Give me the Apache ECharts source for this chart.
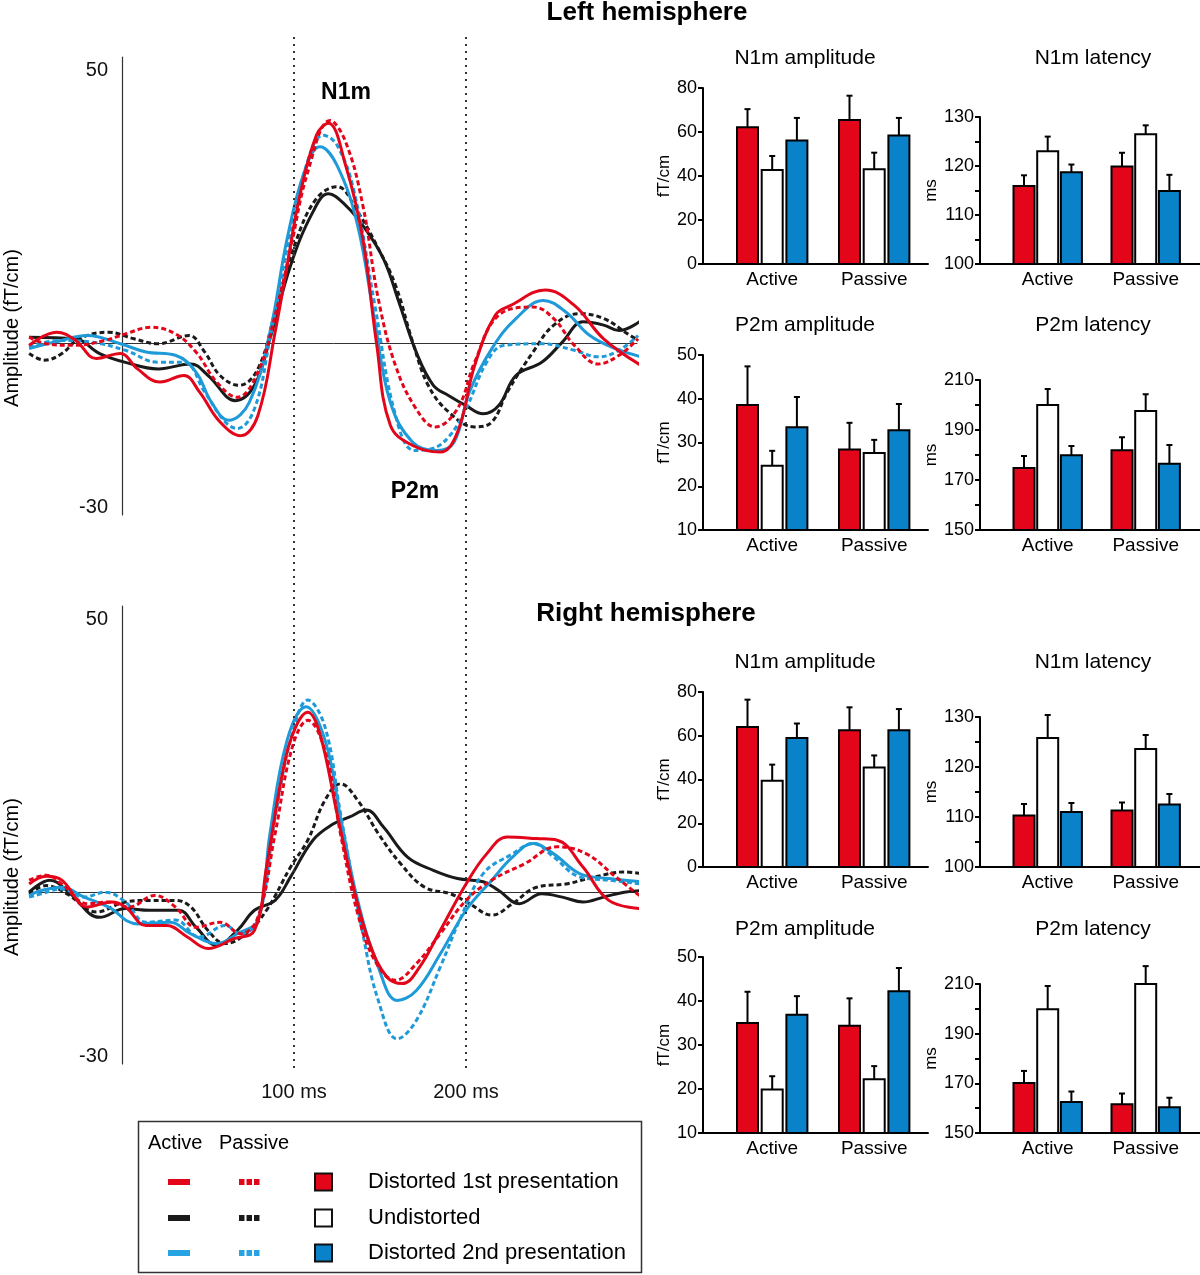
<!DOCTYPE html>
<html><head><meta charset="utf-8">
<script src="https://cdn.jsdelivr.net/npm/echarts@6/dist/echarts.min.js"></script>
<style>html,body{margin:0;padding:0;background:#fff}#c{width:1200px;height:1275px}</style>
</head><body><div id="c"></div>
<script>
// ================= DATA =================
const conditions = ['Distorted 1st presentation', 'Undistorted', 'Distorted 2nd presentation'];
const groups = ['Active', 'Passive'];
const waveYTicks = [50, -30];
const waveXTicks = [100, 200];

// Waveforms: [time ms, amplitude fT/cm]
// Left hemisphere
const L_act_dist1 = [[-54,-0.3],[-38,2.1],[-27,0.6],[-15,-2.7],[-1,-1.8],[9,-4.6],[22,-7],[36,-5.8],[45,-8.8],[57,-14.3],[69,-16.8],[79,-13.1],[89,2.1],[96,14.3],[103,26.5],[113,38.1],[120,40.3],[130,32.6],[140,19.2],[148,0],[156,-14.9],[169,-18.6],[185,-19.8],[195,-16.2],[205,-4],[217,5.2],[226,7],[246,9.8],[263,7],[280,0.9],[302,-4]];
const L_pas_dist1 = [[-54,1.2],[-44,0],[-28,-0.3],[-10,0.6],[2,1.8],[17,3],[31,1.8],[43,-1.5],[55,-7],[67,-9.8],[79,-5.2],[89,5.2],[98,17.4],[108,31.4],[121,40.8],[130,36.9],[140,25.3],[149,8.2],[159,-4],[171,-11.9],[182,-15.2],[195,-11.9],[205,-3.4],[219,5.2],[239,6.7],[251,4.6],[263,-0.3],[277,-3.7],[289,-2.1],[300,0.9]];
const L_act_undist = [[-54,1.2],[-27,0.9],[-13,-1.8],[2,-3.4],[21,-4.6],[40,-3.7],[50,-5.8],[66,-10.4],[77,-7.6],[86,0.9],[98,14.3],[111,24.1],[120,27.4],[130,25.3],[140,21.6],[152,15.5],[161,7.6],[171,-1.5],[181,-7.6],[190,-9.5],[200,-11.3],[210,-12.8],[219,-11.3],[229,-5.8],[244,-3.4],[256,0.3],[268,4],[280,3.4],[289,2.4],[302,4.3]];
const L_pas_undist = [[-54,-1.8],[-45,-3],[-35,-1.8],[-25,0.9],[-8,2.1],[7,0.9],[21,0],[39,1.5],[48,-1.5],[57,-5.8],[68,-7.6],[79,-4.6],[89,5.8],[101,18.6],[113,26.5],[125,28.7],[137,24.1],[149,17.4],[159,10.7],[169,0.3],[178,-7.6],[190,-12.5],[205,-15.2],[215,-14.3],[224,-8.8],[239,-1.5],[251,3.4],[266,5.5],[280,4.6],[294,1.8],[300,0.6]];
const L_act_dist2 = [[-54,-0.9],[-39,0.3],[-20,1.5],[-1,0],[14,-1.5],[31,-2.1],[43,-5.2],[52,-10.7],[62,-14],[74,-10.7],[86,2.1],[96,19.2],[106,31.4],[115,36],[125,32.6],[137,21.6],[147,4],[156,-10.7],[169,-18],[183,-19.5],[193,-18],[202,-8.8],[215,-0.9],[229,4.6],[245,7.9],[258,5.8],[272,1.5],[287,-0.9],[302,-2.4]];
const L_pas_dist2 = [[-54,-0.6],[-37,0.6],[-18,0.3],[2,-1.2],[21,-3.4],[36,-3.4],[48,-8.8],[60,-14.3],[67,-15.5],[77,-11.9],[86,0.9],[96,17.4],[106,31.4],[117,38.1],[125,36.3],[135,27.7],[147,7],[159,-13.1],[170,-19.5],[180,-19.2],[190,-17],[200,-11.9],[212,-3.4],[222,-0.3],[244,0],[263,-1.2],[277,-2.4],[289,-1.2],[300,1.5]];
// Right hemisphere
const R_act_dist1 = [[-54,1.6],[-44,3],[-35,2.3],[-20,-2.6],[-6,-1.7],[2,-2.6],[14,-6],[26,-6],[38,-8.1],[50,-10.2],[65,-8.4],[77,-6.9],[84,4.7],[94,23],[101,30.3],[108,33],[115,29.1],[125,14.5],[135,0.4],[144,-9.3],[154,-15.4],[163,-16.6],[173,-13.6],[185,-6.9],[200,1.6],[212,7.1],[224,10.2],[241,9.9],[253,9.6],[268,4.7],[283,-1.4],[302,-2.9]];
const R_pas_dist1 = [[-54,2.3],[-44,3.2],[-35,1.6],[-20,-2],[-8,-1.7],[4,-2.6],[19,-0.5],[31,-2.6],[43,-6.3],[57,-5.4],[69,-7.5],[79,-4.5],[89,10.8],[99,26.6],[108,31.5],[118,26],[127,10.8],[137,-3.8],[147,-12.4],[159,-16],[171,-13],[185,-7.5],[200,-1.4],[215,2.3],[234,5.3],[253,8.4],[270,7.1],[287,2.9],[302,-0.8]];
const R_act_undist = [[-54,0.1],[-42,2.3],[-30,-0.2],[-13,-4.5],[2,-2.9],[16,-3.2],[33,-3.2],[43,-6.3],[55,-9.6],[67,-6.9],[77,-3.2],[89,-1.4],[98,2.9],[111,9.6],[123,12.6],[132,13.8],[142,15.1],[152,12],[166,6.5],[181,4.1],[195,2.6],[210,2],[219,0.4],[231,-2],[244,-0.2],[256,-0.8],[268,-1.7],[280,-0.8],[292,0.1],[302,0.4]];
const R_pas_undist = [[-54,-0.2],[-44,1.3],[-32,-0.2],[-15,-3.5],[2,-1.7],[16,-1.4],[31,-1.4],[40,-2.6],[50,-6.9],[60,-9.3],[72,-7.5],[84,-3.2],[98,4.7],[108,9.6],[118,16.9],[127,19.9],[137,16.9],[149,10.8],[162,5.3],[176,1],[191,-0.2],[202,-2],[215,-4.1],[227,-2],[241,1],[258,1.6],[275,2.9],[292,3.8],[302,3.5]];
const R_act_dist2 = [[-54,-0.5],[-47,0.4],[-35,1],[-22,-0.8],[-8,-2.6],[9,-5.7],[28,-5.4],[40,-7.5],[55,-9.3],[67,-7.5],[79,-5],[86,10.8],[96,27.9],[107,34],[118,27.9],[127,13.8],[137,-1.4],[149,-13.6],[160,-19.7],[171,-17.9],[185,-11.2],[200,-3.2],[215,2.3],[227,6.5],[239,9],[251,7.1],[266,3.5],[283,2.6],[302,2]];
const R_pas_dist2 = [[-54,-0.8],[-47,-0.2],[-35,0.7],[-22,-0.8],[-10,0.1],[2,-1.7],[14,-5.4],[31,-5],[45,-8.1],[60,-6],[69,-7.5],[79,-5],[89,13.8],[99,29.1],[108,35.2],[118,30.3],[127,14.5],[140,-7.5],[149,-19.7],[160,-26.7],[171,-23.4],[185,-13.6],[197,-4.5],[210,3.5],[227,7.1],[239,9],[251,6.5],[266,2.9],[283,2.3],[302,1.6]];

// Bar panels: order = Active(dist1, undist, dist2), Passive(dist1, undist, dist2)
const L_N1mAmp_mean = [62.2, 42.7, 56.1, 65.5, 43.1, 58.4];
const L_N1mAmp_err  = [8.2, 6.4, 10.3, 11.0, 7.5, 8.0];
const L_N1mLat_mean = [115.9, 123.0, 118.7, 119.9, 126.5, 114.9];
const L_N1mLat_err  = [2.2, 3.0, 1.6, 2.8, 1.8, 3.3];
const L_P2mAmp_mean = [38.6, 24.7, 33.5, 28.4, 27.6, 32.8];
const L_P2mAmp_err  = [8.8, 3.4, 6.9, 6.1, 3.0, 6.0];
const L_P2mLat_mean = [174.8, 200.0, 179.9, 181.9, 197.6, 176.5];
const L_P2mLat_err  = [4.8, 6.4, 3.7, 5.2, 6.7, 7.5];
const R_N1mAmp_mean = [64.0, 39.4, 59.0, 62.5, 45.5, 62.5];
const R_N1mAmp_err  = [12.5, 7.4, 6.6, 10.5, 5.5, 9.7];
const R_N1mLat_mean = [110.3, 125.8, 111.0, 111.3, 123.6, 112.5];
const R_N1mLat_err  = [2.3, 4.6, 1.8, 1.6, 2.8, 2.1];
const R_P2mAmp_mean = [35.0, 19.9, 36.9, 34.4, 22.2, 42.2];
const R_P2mAmp_err  = [7.1, 3.0, 4.2, 6.2, 3.0, 5.3];
const R_P2mLat_mean = [170.1, 199.8, 162.5, 161.6, 210.0, 160.4];
const R_P2mLat_err  = [4.9, 9.4, 4.2, 4.3, 7.2, 3.8];

// ================= STYLE / LAYOUT =================
const FF = '"Liberation Sans", Arial, Helvetica, sans-serif';
const RED = '#e3061b', BLACK = '#1a1a1a', BLUE_LINE = '#1e9ad8', BLUE_BAR = '#0a82ca';
const lineColors = [RED, BLACK, BLUE_LINE];
const barFills = [RED, '#ffffff', BLUE_BAR];

const chart = echarts.init(document.getElementById('c'));
const grids = [], xAxes = [], yAxes = [], series = [], graphics = [];

function txt(text, x, y, size, opts) {
  opts = opts || {};
  graphics.push({
    type: 'text', x: x, y: y, rotation: opts.rotation || 0, z: 100,
    style: { text: text, font: (opts.bold ? 'bold ' : '') + size + 'px ' + FF,
      fill: '#000', align: opts.align || 'center', verticalAlign: 'middle',
      textAlign: opts.align || 'center', textVerticalAlign: 'middle' }
  });
}

// ---- waveform panels ----
const WAVE_LEFT = 30, WAVE_WIDTH = 607;
const WX = { min: -53.5, max: 299.4 };
const WY = { min: -31.3, max: 52.4 };
// pixel offset of the t = 0 axis from the grid's left edge (derived from the scale)
const ZERO_OFF = (0 - WX.min) / (WX.max - WX.min) * WAVE_WIDTH;
function wavePanel(top, curves) {
  const gi = grids.length;
  grids.push({ left: WAVE_LEFT, width: WAVE_WIDTH, top: top, height: 458, outerBoundsMode: 'none', containLabel: false });
  xAxes.push({ gridIndex: gi, type: 'value', min: WX.min, max: WX.max,
    axisLine: { show: true, onZero: true, lineStyle: { color: '#333', width: 1 } },
    axisTick: { show: false }, axisLabel: { show: false }, splitLine: { show: false } });
  yAxes.push({ gridIndex: gi, type: 'value', min: WY.min, max: WY.max, offset: -ZERO_OFF,
    axisLine: { show: true, onZero: false, lineStyle: { color: '#333', width: 1.2 } },
    axisTick: { show: false }, splitLine: { show: false },
    axisLabel: { customValues: waveYTicks, fontSize: 20, color: '#111', fontFamily: FF, margin: 14 } });
  const order = [[1, 1], [1, 0], [2, 1], [2, 0], [0, 1], [0, 0]];
  order.forEach(function (o) {
    const cond = o[0], passive = o[1];
    series.push({
      type: 'line', xAxisIndex: gi, yAxisIndex: gi, data: curves[cond][passive],
      smooth: 0.4, symbol: 'none', silent: true,
      lineStyle: { color: lineColors[cond], width: 3, type: passive ? [5, 3] : 'solid' },
      z: 3 + (cond === 0 ? 2 : cond === 2 ? 1 : 0)
    });
  });
}
wavePanel(57, [[L_act_dist1, L_pas_dist1], [L_act_undist, L_pas_undist], [L_act_dist2, L_pas_dist2]]);
wavePanel(606, [[R_act_dist1, R_pas_dist1], [R_act_undist, R_pas_undist], [R_act_dist2, R_pas_dist2]]);

// ---- dotted reference lines spanning both panels ----
(function () {
  const gi = grids.length;
  grids.push({ left: WAVE_LEFT, width: WAVE_WIDTH, top: 35, height: 1033, outerBoundsMode: 'none', containLabel: false });
  xAxes.push({ gridIndex: gi, type: 'value', min: WX.min, max: WX.max,
    axisLine: { show: false }, axisTick: { show: false }, splitLine: { show: false },
    axisLabel: { customValues: waveXTicks, formatter: function (v) { return v + ' ms'; },
      fontSize: 20, color: '#111', fontFamily: FF, margin: 14 } });
  yAxes.push({ gridIndex: gi, type: 'value', min: 0, max: 1, show: false });
  series.push({ type: 'line', xAxisIndex: gi, yAxisIndex: gi, data: [], silent: true,
    markLine: { silent: true, symbol: ['none', 'none'], label: { show: false },
      lineStyle: { color: '#333', width: 2, type: [2, 5] },
      data: waveXTicks.map(function (v) { return { xAxis: v }; }) } });
})();

// ---- bar panels ----
const COLS = {
  amp: { left: 703, right: 928, first: 44.5, spacing: 24.7, gap: 102, nameGap: 30 },
  lat: { left: 980, right: 1200, first: 44, spacing: 23.7, gap: 98, nameGap: 37 }
};
const BW = 21;
function barPanel(col, top, bottom, yMin, yMax, yInt, labelStep, unit, means, errs) {
  const c = COLS[col];
  const gi = grids.length;
  const G = c.gap / c.spacing;
  grids.push({ left: c.left, width: c.right - c.left, top: top, height: bottom - top, outerBoundsMode: 'none', containLabel: false });
  xAxes.push({ gridIndex: gi, type: 'value', min: -c.first / c.spacing, max: (c.right - c.left - c.first) / c.spacing,
    axisLine: { show: true, onZero: false, lineStyle: { color: '#000', width: 2 } },
    axisTick: { show: false }, splitLine: { show: false },
    axisLabel: { customValues: [1, G + 1], fontSize: 19, color: '#000', fontFamily: FF, margin: 6,
      formatter: function (v) { return v < G / 2 + 1 ? groups[0] : groups[1]; } } });
  yAxes.push({ gridIndex: gi, type: 'value', min: yMin, max: yMax, interval: yInt,
    axisLine: { show: true, onZero: false, lineStyle: { color: '#000', width: 2 } },
    axisTick: { show: true, inside: false, length: 5, lineStyle: { color: '#000', width: 2 } },
    splitLine: { show: false },
    axisLabel: { fontSize: 18, color: '#000', fontFamily: FF, margin: 6,
      formatter: function (v) { return ((v - yMin) % labelStep === 0) ? String(v) : ''; } },
    name: unit, nameLocation: 'middle', nameGap: c.nameGap, nameRotate: 90,
    nameTextStyle: { fontSize: 17, color: '#000', fontFamily: FF } });
  const data = [];
  for (let g = 0; g < 2; g++) for (let s = 0; s < 3; s++)
    data.push([g * G + s, means[g * 3 + s], errs[g * 3 + s], s]);
  series.push({ type: 'custom', xAxisIndex: gi, yAxisIndex: gi, data: data, silent: true,
    renderItem: function (params, api) {
      const x = api.value(0), m = api.value(1), e = api.value(2), s = api.value(3);
      const base = api.coord([x, yMin]), tp = api.coord([x, m]), et = api.coord([x, m + e]);
      return { type: 'group', children: [
        { type: 'line', shape: { x1: tp[0], y1: tp[1], x2: et[0], y2: et[1] }, style: { stroke: '#000', lineWidth: 2 } },
        { type: 'line', shape: { x1: et[0] - 3, y1: et[1], x2: et[0] + 3, y2: et[1] }, style: { stroke: '#000', lineWidth: 2 } },
        { type: 'rect', shape: { x: tp[0] - BW / 2, y: tp[1], width: BW, height: base[1] - tp[1] },
          style: { fill: barFills[s], stroke: '#000', lineWidth: 2 } }
      ] };
    } });
}
barPanel('amp', 88, 264, 0, 80, 20, 20, 'fT/cm', L_N1mAmp_mean, L_N1mAmp_err);
barPanel('lat', 117, 264, 100, 130, 5, 10, 'ms', L_N1mLat_mean, L_N1mLat_err);
barPanel('amp', 355, 530, 10, 50, 10, 10, 'fT/cm', L_P2mAmp_mean, L_P2mAmp_err);
barPanel('lat', 380, 530, 150, 210, 10, 20, 'ms', L_P2mLat_mean, L_P2mLat_err);
barPanel('amp', 692, 867, 0, 80, 20, 20, 'fT/cm', R_N1mAmp_mean, R_N1mAmp_err);
barPanel('lat', 717, 867, 100, 130, 5, 10, 'ms', R_N1mLat_mean, R_N1mLat_err);
barPanel('amp', 957, 1133, 10, 50, 10, 10, 'fT/cm', R_P2mAmp_mean, R_P2mAmp_err);
barPanel('lat', 984, 1133, 150, 210, 10, 20, 'ms', R_P2mLat_mean, R_P2mLat_err);

// ---- texts ----
txt('Left hemisphere', 647, 13, 26, { bold: true });
txt('Right hemisphere', 646, 614, 26, { bold: true });
txt('N1m', 346, 93, 23, { bold: true });
txt('P2m', 415, 492, 23, { bold: true });
txt('Amplitude (fT/cm)', 12, 328, 20, { rotation: Math.PI / 2 });
txt('Amplitude (fT/cm)', 12, 877, 20, { rotation: Math.PI / 2 });
[[58, 'N1m'], [325, 'P2m'], [662, 'N1m'], [929, 'P2m']].forEach(function (r) {
  txt(r[1] + ' amplitude', 805, r[0], 21);
  txt(r[1] + ' latency', 1093, r[0], 21);
});

// ---- legend ----
graphics.push({ type: 'rect', shape: { x: 138.5, y: 1121.5, width: 503, height: 151 },
  style: { fill: 'none', stroke: '#333', lineWidth: 1.5 } });
txt('Active', 148, 1143, 20, { align: 'left' });
txt('Passive', 219, 1143, 20, { align: 'left' });
const legendRows = [1182, 1218, 1253];
const legendLine = [RED, BLACK, '#27a3e2'];
conditions.forEach(function (name, i) {
  const y = legendRows[i];
  graphics.push({ type: 'rect', shape: { x: 168, y: y - 3, width: 22, height: 6 }, style: { fill: legendLine[i] } });
  for (let k = 0; k < 3; k++)
    graphics.push({ type: 'rect', shape: { x: 239 + k * 7.5, y: y - 3, width: 5.5, height: 6 }, style: { fill: legendLine[i] } });
  graphics.push({ type: 'rect', shape: { x: 315, y: y - 8.5, width: 17, height: 17 },
    style: { fill: barFills[i], stroke: '#111', lineWidth: 2 } });
  txt(name, 368, y, 22, { align: 'left' });
});

chart.setOption({
  animation: false,
  backgroundColor: '#fff',
  textStyle: { fontFamily: FF },
  grid: grids, xAxis: xAxes, yAxis: yAxes, series: series,
  graphic: { elements: graphics }
});
</script></body></html>
